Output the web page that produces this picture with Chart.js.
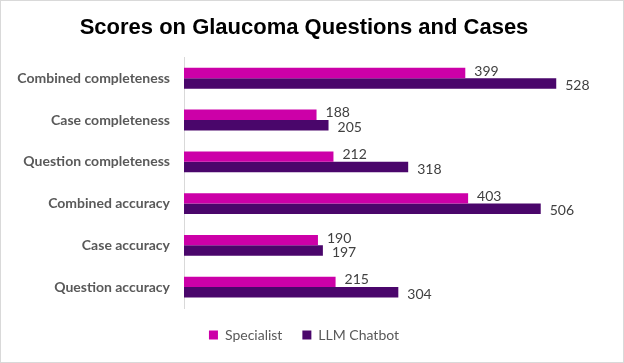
<!DOCTYPE html>
<html>
<head>
<meta charset="utf-8">
<script src="https://cdn.jsdelivr.net/npm/chart.js@4"></script>
<style>
  html, body { margin: 0; padding: 0; background: #fff; }
  #wrap { position: relative; width: 622px; height: 361px; border: 1px solid #d9d9d9; }
</style>
</head>
<body>
<div id="wrap"><canvas id="barChart" width="622" height="361"></canvas></div>
<script>
const categories = [
    'Combined completeness',
    'Case completeness',
    'Question completeness',
    'Combined accuracy',
    'Case accuracy',
    'Question accuracy'];
const specialist = [399, 188, 212, 403, 190, 215];
const llmChatbot = [528, 205, 318, 506, 197, 304];

const labelFont = '"Lato", "Open Sans", sans-serif';

// value labels at the end of each bar
const valueLabels = {
    id: 'valueLabels',
    afterDatasetsDraw(chart) {
        const ctx = chart.ctx;
        ctx.save();
        ctx.font = '14px ' + labelFont;
        ctx.fillStyle = '#404040';
        ctx.textAlign = 'left';
        ctx.textBaseline = 'middle';
        chart.data.datasets.forEach((ds, i) => {
            chart.getDatasetMeta(i).data.forEach((bar, j) => {
                ctx.fillText(ds.data[j], bar.x + 9, bar.y + (i === 0 ? -2 : 2));
            });
        });
        ctx.restore();
    }
};

const data = {
    labels: categories,
    datasets: [
        {
            label: 'Specialist',
            data: specialist,
            backgroundColor: '#cc00a8'
        },
        {
            label: 'LLM Chatbot',
            data: llmChatbot,
            backgroundColor: '#4a066b'
        }
    ]
};

const config = {
    type: 'bar',
    data: data,
    options: {
        indexAxis: 'y',
        responsive: false,
        animation: false,
        layout: { padding: { left: 0, right: 16, top: 0, bottom: 10 } },
        datasets: { bar: { categoryPercentage: 0.5, barPercentage: 1.0 } },
        scales: {
            x: {
                display: false,
                min: 0,
                max: 600
            },
            y: {
                grid: { display: false, drawTicks: false },
                border: { display: true, color: '#d9d9d9' },
                ticks: {
                    color: '#595959',
                    font: { family: labelFont, size: 14, weight: 'bold' },
                    padding: 14
                },
                afterFit(scale) { scale.width = 183; }
            }
        },
        plugins: {
            legend: {
                position: 'bottom',
                labels: {
                    boxWidth: 9,
                    boxHeight: 9,
                    color: '#595959',
                    font: { family: labelFont, size: 14 },
                    padding: 20
                }
            },
            title: {
                display: true,
                text: 'Scores on Glaucoma Questions and Cases',
                color: '#000',
                font: { family: '"Liberation Sans", Arial, sans-serif', size: 22, weight: 'bold' },
                padding: { top: 14, bottom: 16 }
            },
            tooltip: { enabled: false }
        }
    },
    plugins: [valueLabels]
};
const barChart = new Chart(
    document.getElementById('barChart'),
    config);
</script>
</body>
</html>
